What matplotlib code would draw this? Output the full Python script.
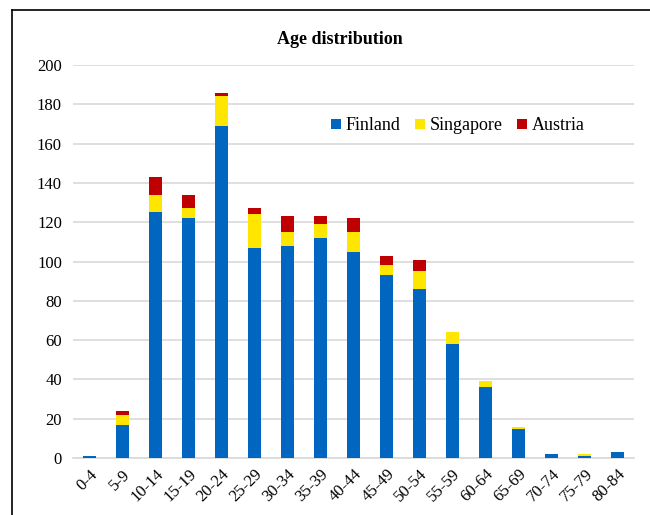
import matplotlib
matplotlib.use("Agg")
import matplotlib.pyplot as plt
from matplotlib.lines import Line2D
import numpy as np

ages = ["0-4", "5-9", "10-14", "15-19", "20-24", "25-29", "30-34", "35-39", "40-44",
        "45-49", "50-54", "55-59", "60-64", "65-69", "70-74", "75-79", "80-84"]
finland = [1, 17, 125, 122, 169, 107, 108, 112, 105, 93, 86, 58, 36, 15, 2, 1, 3]
singapore = [0, 5, 9, 5, 15, 17, 7, 7, 10, 5, 9, 6, 3, 1, 0, 1, 0]
austria = [0, 2, 9, 7, 2, 3, 8, 4, 7, 5, 6, 0, 0, 0, 0, 0, 0]

plt.rcParams['font.family'] = ['Liberation Serif', 'DejaVu Serif']

fig = plt.figure(figsize=(6.5, 5.15), dpi=100)
ax = fig.add_axes([73/650, 1-458/515, 561/650, 393/515])

x = np.arange(len(ages))
fin = np.array(finland)
sin = np.array(singapore)
aus = np.array(austria)
w = 0.4
ax.bar(x, fin, w, color="#0066BF", label="Finland", zorder=3)
ax.bar(x, sin, w, bottom=fin, color="#FFE600", label="Singapore", zorder=3)
ax.bar(x, aus, w, bottom=fin+sin, color="#C00000", label="Austria", zorder=3)

ax.set_xlim(-0.5, len(ages)-0.5)
ax.set_ylim(0, 200)
ax.set_yticks(range(0, 201, 20))
ax.set_xticks(x)
ax.set_xticklabels(ages, rotation=45, ha="right", rotation_mode="anchor")
ax.tick_params(length=0, labelsize=12, pad=8)
ax.tick_params(axis="x", pad=6)
ax.yaxis.grid(True, color="#D9D9D9", linewidth=1.2, zorder=0)
for s in ["top", "right", "left"]:
    ax.spines[s].set_visible(False)
ax.spines["bottom"].set_color("#D9D9D9")
ax.spines["bottom"].set_linewidth(1.2)

ax.legend(loc="center", bbox_to_anchor=(0.686, 0.845), ncol=3, frameon=False,
          fontsize=13, handlelength=0.55, handleheight=0.55, handletextpad=0.25,
          columnspacing=0.8)

fig.text(340/650, 1-40/515, "Age distribution", ha="center", va="center",
         fontsize=13, fontweight="bold")

# outer frame
fig.add_artist(Line2D([12/650, 12/650], [0, 1-10/515], color="black", lw=1.2,
                      transform=fig.transFigure))
fig.add_artist(Line2D([12/650, 1], [1-10/515, 1-10/515], color="black", lw=1.2,
                      transform=fig.transFigure))

fig.savefig("out.png", dpi=100)
